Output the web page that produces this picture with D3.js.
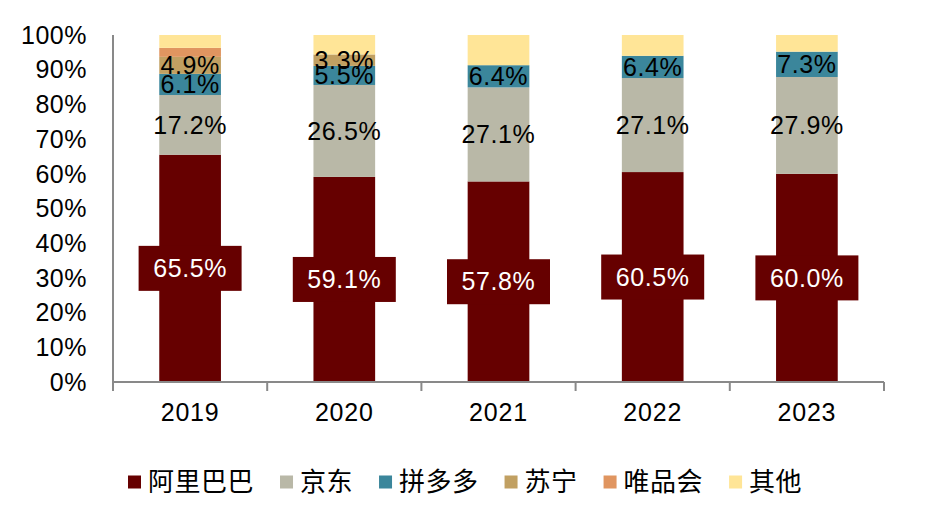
<!DOCTYPE html>
<html>
<head>
<meta charset="utf-8">
<script src="https://cdn.jsdelivr.net/npm/d3@7"></script>
<style>
  html, body { margin: 0; padding: 0; background: #fff; }
  svg { display: block; }
</style>
</head>
<body>
<svg id="chart" width="928" height="517"></svg>
<script>
const years = ["2019", "2020", "2021", "2022", "2023"];
const seriesNames = ["阿里巴巴", "京东", "拼多多", "苏宁", "唯品会", "其他"];
const alibaba = [65.5, 59.1, 57.8, 60.5, 60.0];
const jd      = [17.2, 26.5, 27.1, 27.1, 27.9];
const pdd     = [6.1, 5.5, 6.4, 6.4, 7.3];
const suning  = [4.9, 3.3, 0, 0, 0];
const vip     = [2.6, 0, 0, 0, 0];
const others  = [3.7, 5.6, 8.7, 6.0, 4.8];
const yTicks = [0, 10, 20, 30, 40, 50, 60, 70, 80, 90, 100];
const colors = ["#660000", "#B9B8A7", "#3B869B", "#C1A062", "#E09560", "#FFE597"];

const seriesValues = [alibaba, jd, pdd, suning, vip, others];
const rows = years.map((y, i) => {
  const r = { year: y };
  seriesNames.forEach((s, k) => r[s] = seriesValues[k][i]);
  return r;
});

const svg = d3.select("#chart");
const font = "'Liberation Sans', Arial, sans-serif";
const cjk = "'Noto Sans CJK SC', sans-serif";

const x = d3.scaleBand().domain(years).range([113, 884]).paddingInner(0.6).paddingOuter(0.3);
const y = d3.scaleLinear().domain([0, 100]).range([382, 35]);

const stack = d3.stack().keys(seriesNames);
const stacked = stack(rows);

// bars
const g = svg.append("g");
stacked.forEach((layer, k) => {
  g.selectAll(null).data(layer).enter().append("rect")
    .attr("x", d => x(d.data.year))
    .attr("width", x.bandwidth())
    .attr("y", d => y(d[1]))
    .attr("height", d => y(d[0]) - y(d[1]))
    .attr("fill", colors[k]);
});

// axes
const axisColor = "#898989";
svg.append("line").attr("x1", 113).attr("x2", 113).attr("y1", y(100)).attr("y2", y(0) + 9)
  .attr("stroke", axisColor).attr("stroke-width", 2);
svg.append("line").attr("x1", 113).attr("x2", 884).attr("y1", y(0)).attr("y2", y(0))
  .attr("stroke", axisColor).attr("stroke-width", 2);
const step = x.step();
const bounds = years.map(yr => x(yr) - (step - x.bandwidth()) / 2).concat([x(years[years.length - 1]) + x.bandwidth() + (step - x.bandwidth()) / 2]);
bounds.forEach(b => {
  svg.append("line").attr("x1", b).attr("x2", b).attr("y1", y(0)).attr("y2", y(0) + 9)
    .attr("stroke", axisColor).attr("stroke-width", 2);
});

// y tick labels
svg.selectAll(null).data(yTicks).enter().append("text")
  .attr("x", 87).attr("y", d => y(d)).attr("dy", "0.35em")
  .attr("text-anchor", "end").attr("font-family", font).attr("font-size", 25)
  .attr("letter-spacing", 0.5)
  .attr("fill", "#000").text(d => d + "%");

// x labels
svg.selectAll(null).data(years).enter().append("text")
  .attr("x", d => x(d) + x.bandwidth() / 2).attr("y", 412).attr("dy", "0.35em")
  .attr("text-anchor", "middle").attr("font-family", font).attr("font-size", 25)
  .attr("letter-spacing", 0.8)
  .attr("fill", "#000").text(d => d);

// labels for alibaba (boxed)
stacked[0].forEach(d => {
  const cx = x(d.data.year) + x.bandwidth() / 2;
  const cy = y((d[0] + d[1]) / 2);
  svg.append("rect").attr("x", cx - 51.5).attr("y", cy - 22.5).attr("width", 103).attr("height", 45)
    .attr("fill", colors[0]);
  svg.append("text").attr("x", cx).attr("y", cy).attr("dy", "0.35em")
    .attr("text-anchor", "middle").attr("font-family", font).attr("font-size", 25)
    .attr("letter-spacing", 0.6)
    .attr("fill", "#fff").text(d.data["阿里巴巴"].toFixed(1) + "%");
});
// labels for 京东, 拼多多, 苏宁
[1, 2, 3].forEach(k => {
  stacked[k].forEach(d => {
    const v = d.data[seriesNames[k]];
    if (!v) return;
    svg.append("text")
      .attr("x", x(d.data.year) + x.bandwidth() / 2)
      .attr("y", y((d[0] + d[1]) / 2)).attr("dy", "0.35em")
      .attr("text-anchor", "middle").attr("font-family", font).attr("font-size", 25)
      .attr("letter-spacing", 0.6)
      .attr("fill", "#000").text(v.toFixed(1) + "%");
  });
});

// legend
let lx = 128;
const ly = 482;
seriesNames.forEach((s, k) => {
  svg.append("rect").attr("x", lx).attr("y", ly - 6.5).attr("width", 13).attr("height", 13).attr("fill", colors[k]);
  const t = svg.append("text").attr("x", lx + 20).attr("y", ly).attr("dy", "0.36em")
    .attr("font-family", cjk).attr("font-size", 26).attr("letter-spacing", 0.5)
    .attr("fill", "#000").text(s);
  const w = t.node().getComputedTextLength();
  lx = lx + 20 + w + 26;
});
</script>
</body>
</html>
